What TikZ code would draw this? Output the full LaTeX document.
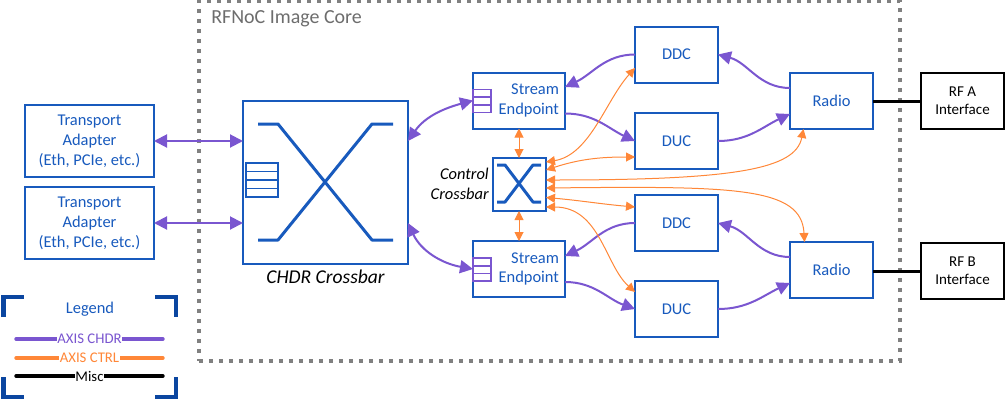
\documentclass[tikz,border=0pt]{standalone}
\usepackage{fontspec}
\setmainfont{Carlito}
\definecolor{accentblue}{RGB}{24,90,189}
\definecolor{legendblue}{RGB}{11,70,160}
\definecolor{accentpurple}{RGB}{122,86,208}
\definecolor{accentorange}{RGB}{255,135,56}
\definecolor{dotgray}{RGB}{128,128,128}
\usetikzlibrary{arrows.meta, calc}

\begin{document}
\begin{tikzpicture}[x=0.25mm, y=-0.25mm,
    bluebox/.style={draw=accentblue, line width=0.5mm, outer sep=0pt, inner sep=0pt, text=accentblue, align=center, font=\fontsize{11.7}{14.2}\selectfont},
    rfbox/.style={draw=black, line width=0.5mm, outer sep=0pt, inner sep=0pt, align=center, minimum width=20.75mm, minimum height=14mm, font=\fontsize{10.7}{12.8}\selectfont},
    blockbox/.style={bluebox, minimum width=20.75mm, minimum height=14mm},
    adapterbox/.style={bluebox, minimum width=32.25mm, minimum height=18mm},
    streambox/.style={bluebox, minimum height=14mm, text width=20mm, inner xsep=1.5mm, align=right},
    chdrlink/.style={draw=accentpurple, line width=0.5mm, >={Triangle[length=3.25mm, width=3.25mm]}},
    ctrllink/.style={draw=accentorange, line width=0.25mm, >={Triangle[length=2.25mm, width=2.25mm]}},
    xbarline/.style={draw=accentblue, line width=0.75mm, line join=round},
    cornerline/.style={draw=legendblue, line width=1mm},
    keyline/.style={line width=0.85mm, line cap=round},
    keytext/.style={fill=white, inner xsep=0.2mm, inner ysep=0pt, font=\fontsize{10.5}{12}\selectfont}]
  \useasboundingbox (0,0) rectangle (1006,400);

  % RFNoC image core
  \node[draw=dotgray, line width=1mm, dash pattern=on 1mm off 1.5mm, minimum width=175.25mm, minimum height=90mm] (core) at (549.5,181) {};
  \node[text=dotgray!85!black, anchor=west, inner sep=0pt, font=\fontsize{14.2}{16}\selectfont] (corelabel) at (211,19) {RFNoC Image Core};

  % Transport adapters
  \node[adapterbox] (adaptera) at (89.5,141) {Transport\\Adapter\\(Eth, PCIe, etc.)};
  \node[adapterbox] (adapterb) at (89.5,223) {Transport\\Adapter\\(Eth, PCIe, etc.)};

  % CHDR crossbar
  \node[bluebox, minimum width=41.25mm, minimum height=40.75mm] (chdr) at (325.5,182.5) {};
  \node[inner sep=0pt, font=\fontsize{13.9}{16}\selectfont\itshape] (chdrlabel) at (325.5,277) {CHDR Crossbar};
  \draw[xbarline] (258,124) -- (278,124) -- (372,240) -- (393,240);
  \draw[xbarline] (258,240) -- (278,240) -- (372,124) -- (393,124);
  \draw[fill=white, draw=accentblue, line width=0.35mm] (246,163) rectangle (278,197);
  \foreach \y in {171.5,180,188.5} {
    \draw[accentblue, line width=0.35mm] (246,\y) -- (278,\y);
  }

  % Stream endpoints
  \node[streambox] (streama) at (519,100.5) {Stream\\Endpoint};
  \node[streambox] (streamb) at (519,269) {Stream\\Endpoint};
  \foreach \y in {89.5,258} {
    \draw[fill=white, draw=accentpurple, line width=0.4mm] (473,\y) rectangle (491,\y+23);
    \draw[accentpurple, line width=0.4mm] (473,\y+7.7) -- (491,\y+7.7);
    \draw[accentpurple, line width=0.4mm] (473,\y+15.3) -- (491,\y+15.3);
  }

  % Control crossbar
  \node[bluebox, minimum width=13.25mm, minimum height=13.25mm] (ctrl) at (519.5,184.5) {};
  \node[anchor=east, inner sep=0pt, align=right, font=\fontsize{11.7}{14.2}\selectfont\itshape] (ctrllabel) at (489,184) {Control\\Crossbar};
  \draw[xbarline] (497,165) -- (505,165) -- (533,202) -- (541,202);
  \draw[xbarline] (497,202) -- (505,202) -- (533,165) -- (541,165);

  % DDC, DUC, radio
  \node[blockbox] (ddca) at (676.5,54.5) {DDC};
  \node[blockbox] (duca) at (676.5,141) {DUC};
  \node[blockbox] (ddcb) at (676.5,223) {DDC};
  \node[blockbox] (ducb) at (676.5,309) {DUC};
  \node[blockbox] (radioa) at (831.5,101) {Radio};
  \node[blockbox] (radiob) at (831.5,270) {Radio};

  % RF interfaces
  \node[rfbox] (rfa) at (962.5,101) {RF A\\Interface};
  \node[rfbox] (rfb) at (962.5,271) {RF B\\Interface};
  \draw[line width=0.75mm] (radioa.east) -- (rfa.west);
  \draw[line width=0.75mm] (radiob.east |- rfb.west) -- (rfb.west);

  % CHDR links
  \draw[chdrlink, <->] (adaptera.east) -- (chdr.west |- adaptera.east);
  \draw[chdrlink, <->] (adapterb.east) -- (chdr.west |- adapterb.east);
  \draw[chdrlink, <->] (chdr.east |- adaptera.east) to[out=55, in=195] (streama.west);
  \draw[chdrlink, <->] (chdr.east |- adapterb.east) to[out=-65, in=170] (streamb.west);
  \draw[chdrlink, ->] (ddca.west) to[out=180, in=25] ($(streama.east)+(0,-13.5)$);
  \draw[chdrlink, ->] ($(streama.east)+(0,13)$) to[out=0, in=155] (duca.west);
  \draw[chdrlink, ->] (ddcb.west) to[out=180, in=25] ($(streamb.east)+(0,-13)$);
  \draw[chdrlink, ->] ($(streamb.east)+(0,13)$) to[out=0, in=160] (ducb.west);
  \draw[chdrlink, ->] ($(radioa.west)+(0,-13)$) to[out=180, in=-15] (ddca.east);
  \draw[chdrlink, ->] (duca.east) to[out=0, in=205] ($(radioa.west)+(0,13)$);
  \draw[chdrlink, ->] ($(radiob.west)+(0,-13)$) to[out=180, in=-15] (ddcb.east);
  \draw[chdrlink, ->] (ducb.east) to[out=0, in=205] ($(radiob.west)+(0,13)$);

  % Control links
  \draw[ctrllink, <->] (streama.south) -- (streama.south |- ctrl.north);
  \draw[ctrllink, <->] (streamb.north) -- (streamb.north |- ctrl.south);
  \draw[ctrllink, <->] ($(ctrl.east)+(0,-22.5)$) .. controls +(44,-7) and +(-29,32) .. ($(ddca.west)+(0,13.5)$);
  \draw[ctrllink, <->] ($(ctrl.east)+(0,-14.5)$) to[out=18, in=180] ($(duca.west)+(0,16)$);
  \draw[ctrllink, <->] ($(ctrl.east)+(0,-4.5)$) .. controls +(190,0) and +(-8,40) .. ($(radioa.south)+(-28,0)$);
  \draw[ctrllink, <->] ($(ctrl.east)+(0,3.5)$) .. controls +(190,-2) and +(-3,-55) .. ($(radiob.north)+(-27,0)$);
  \draw[ctrllink, <->] ($(ctrl.east)+(0,13)$) to[out=-5, in=175] ($(ddcb.west)+(0,-16)$);
  \draw[ctrllink, <->] ($(ctrl.east)+(0,22.5)$) .. controls +(54,0) and +(-30,-27) .. ($(ducb.west)+(0,-17)$);

  % Legend
  \node[text=accentblue, inner sep=0pt, font=\fontsize{11.7}{14}\selectfont] (legend) at (90,309) {Legend};
  \draw[cornerline] (3.5,317) -- (3.5,296.5) -- (24,296.5);
  \draw[cornerline] (155,296.5) -- (176,296.5) -- (176,317);
  \draw[cornerline] (3.5,377) -- (3.5,397) -- (24,397);
  \draw[cornerline] (155,397) -- (176,397) -- (176,377);
  \coordinate (chdrl) at (16,339);
  \coordinate (chdrr) at (163,339);
  \coordinate (ctrll) at (16,358);
  \coordinate (ctrlr) at (163,358);
  \coordinate (miscl) at (16,376);
  \coordinate (miscr) at (163,376);
  \draw[keyline, accentpurple] (chdrl) -- node[keytext, text=accentpurple] (chdrkey) {AXIS CHDR} (chdrr);
  \draw[keyline, accentorange] (ctrll) -- node[keytext, text=accentorange] (ctrlkey) {AXIS CTRL} (ctrlr);
  \draw[keyline, black] (miscl) -- node[keytext, text=black] (misckey) {Misc} (miscr);
\end{tikzpicture}
\end{document}
